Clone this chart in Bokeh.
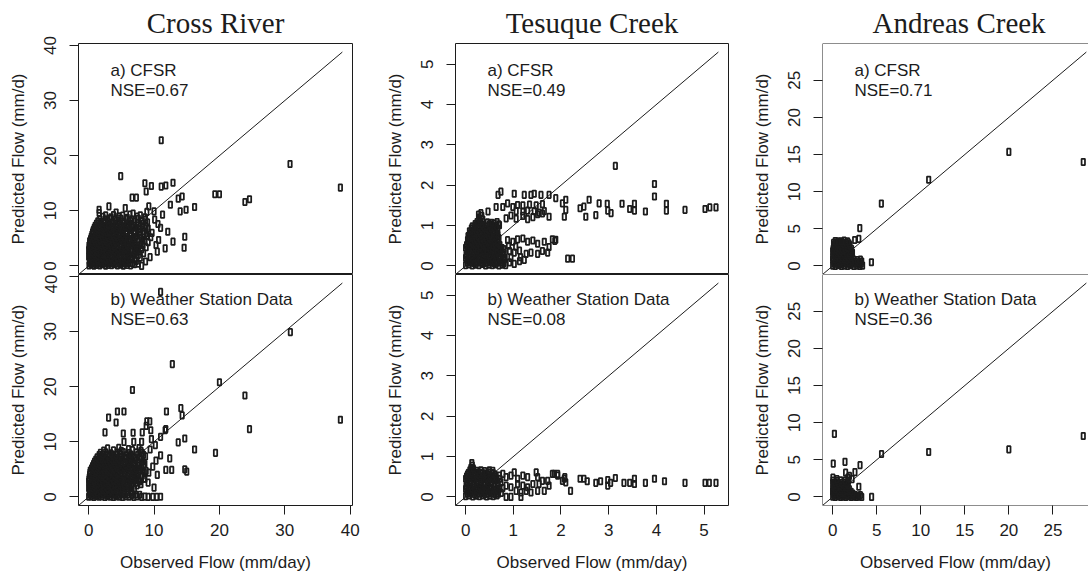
from bokeh.plotting import figure
from bokeh.layouts import gridplot
from bokeh.models import Range1d, FixedTicker, Span
from bokeh.core.properties import value
from bokeh.embed import file_html
from bokeh.resources import INLINE

# ---- chart values -------------------------------------------------------
site_names = ["Cross River", "Tesuque Creek", "Andreas Creek"]
source_labels = ["a) CFSR", "b) Weather Station Data"]
nse_cfsr = [0.67, 0.49, 0.71]
nse_station = [0.63, 0.08, 0.36]
flow_max = [38.8, 5.3, 28.8]          # upper flow limit (mm/d), same on both axes
tick_values = [[0, 10, 20, 30, 40], [0, 1, 2, 3, 4, 5], [0, 5, 10, 15, 20, 25]]

# (observed, predicted) daily flows, mm/d
cross_cfsr = [
    (0.05, 0.1), (0.4, 0.25), (0.8, 0.05), (1.2, 0.2), (1.7, 0.1), (2.1, 0.3), (2.6, 0.05), (3.0, 0.2),
    (3.5, 0.15), (3.9, 0.3), (4.4, 0.1), (4.9, 0.25), (5.3, 0.05), (5.9, 0.2), (6.4, 0.1), (7.0, 0.3),
    (0.25, 0.5), (0.6, 0.45), (1.0, 0.55), (1.45, 0.4), (1.9, 0.6), (2.35, 0.5), (2.8, 0.45), (3.25, 0.55),
    (3.7, 0.5), (4.15, 0.4), (4.65, 0.6), (5.1, 0.5), (5.6, 0.45), (6.1, 0.55), (6.7, 0.5), (7.6, 0.4),
    (0.1, 0.9), (0.5, 0.8), (0.9, 1.0), (1.4, 0.85), (1.8, 0.95), (2.3, 0.75), (2.7, 1.05), (3.2, 0.9),
    (3.7, 0.8), (4.1, 1.0), (4.6, 0.85), (5.1, 0.95), (5.6, 0.8), (6.2, 1.1), (7.3, 0.9),
    (0.2, 1.3), (0.55, 1.25), (0.95, 1.35), (1.35, 1.2), (1.8, 1.4), (2.2, 1.3), (2.65, 1.25), (3.05, 1.35),
    (3.5, 1.3), (3.95, 1.2), (4.4, 1.4), (4.9, 1.3), (5.35, 1.25), (5.85, 1.35), (6.5, 1.3), (7.1, 1.2),
    (0.0, 1.7), (0.3, 1.6), (0.7, 1.8), (1.1, 1.65), (1.6, 1.75), (2.0, 1.55), (2.5, 1.85), (2.9, 1.7),
    (3.4, 1.6), (3.9, 1.8), (4.3, 1.65), (4.8, 1.75), (5.4, 1.6), (6.0, 1.85), (6.7, 1.7), (7.9, 1.5),
    (0.1, 2.1), (0.45, 2.05), (0.85, 2.15), (1.3, 2.0), (1.75, 2.2), (2.2, 2.1), (2.65, 2.05), (3.1, 2.15),
    (3.55, 2.1), (4.05, 2.0), (4.5, 2.2), (5.0, 2.1), (5.5, 2.05), (6.2, 2.15), (6.9, 2.1), (7.6, 2.0),
    (0.2, 2.5), (0.6, 2.4), (1.0, 2.6), (1.5, 2.45), (1.9, 2.55), (2.4, 2.35), (2.8, 2.65), (3.3, 2.5),
    (3.8, 2.4), (4.2, 2.6), (4.7, 2.45), (5.2, 2.55), (5.8, 2.4), (6.5, 2.6), (7.2, 2.5), (8.4, 2.3),
    (0.0, 2.9), (0.35, 2.85), (0.75, 2.95), (1.2, 2.8), (1.65, 3.0), (2.05, 2.9), (2.5, 2.85), (2.95, 2.95),
    (3.45, 2.9), (3.9, 2.8), (4.35, 3.0), (4.85, 2.9), (5.4, 2.85), (5.95, 2.95), (6.6, 2.9), (7.4, 2.8), (8.1, 3.0),
    (0.1, 3.3), (0.5, 3.2), (0.9, 3.4), (1.3, 3.25), (1.8, 3.35), (2.2, 3.15), (2.7, 3.45), (3.1, 3.3),
    (3.6, 3.2), (4.0, 3.4), (4.5, 3.25), (5.0, 3.35), (5.6, 3.2), (6.1, 3.45), (6.9, 3.3), (7.6, 3.1), (8.8, 3.4),
    (0.05, 3.7), (0.4, 3.65), (0.8, 3.75), (1.25, 3.6), (1.7, 3.8), (2.1, 3.7), (2.55, 3.65), (3.0, 3.75),
    (3.45, 3.7), (3.9, 3.6), (4.4, 3.8), (4.85, 3.7), (5.4, 3.65), (5.9, 3.75), (6.5, 3.7), (7.3, 3.6), (8.3, 3.8),
    (0.2, 4.1), (0.6, 4.0), (1.1, 4.2), (1.5, 4.05), (2.0, 4.15), (2.4, 3.95), (2.9, 4.25), (3.4, 4.1),
    (3.8, 4.0), (4.3, 4.2), (4.8, 4.05), (5.3, 4.15), (5.9, 4.0), (6.4, 4.25), (7.1, 4.1), (8.0, 3.9), (9.1, 4.3),
    (0.15, 4.5), (0.55, 4.45), (0.95, 4.55), (1.4, 4.4), (1.8, 4.6), (2.25, 4.5), (2.7, 4.45), (3.15, 4.55),
    (3.6, 4.5), (4.1, 4.4), (4.55, 4.6), (5.05, 4.5), (5.6, 4.45), (6.15, 4.55), (6.8, 4.5), (7.6, 4.4), (8.6, 4.6),
    (0.3, 4.9), (0.8, 4.8), (1.2, 5.0), (1.7, 4.85), (2.1, 4.95), (2.6, 4.75), (3.1, 5.05), (3.5, 4.9),
    (4.0, 4.8), (4.5, 5.0), (5.0, 4.85), (5.5, 4.95), (6.2, 4.8), (6.8, 5.05), (7.5, 4.9), (8.3, 4.7),
    (0.4, 5.3), (0.75, 5.25), (1.15, 5.35), (1.6, 5.2), (2.05, 5.4), (2.5, 5.3), (2.95, 5.25), (3.4, 5.35),
    (3.85, 5.3), (4.3, 5.2), (4.8, 5.4), (5.3, 5.3), (5.85, 5.25), (6.5, 5.35), (7.2, 5.3), (8.0, 5.2), (9.0, 5.4),
    (0.5, 5.7), (1.0, 5.6), (1.4, 5.8), (1.9, 5.65), (2.3, 5.75), (2.8, 5.55), (3.3, 5.85), (3.7, 5.7),
    (4.2, 5.6), (4.7, 5.8), (5.2, 5.65), (5.8, 5.75), (6.4, 5.6), (7.0, 5.85), (7.8, 5.7), (8.9, 5.5),
    (0.6, 6.1), (1.0, 6.05), (1.45, 6.15), (1.95, 6.0), (2.4, 6.2), (2.85, 6.1), (3.3, 6.05), (3.8, 6.15),
    (4.25, 6.1), (4.75, 6.0), (5.25, 6.2), (5.8, 6.1), (6.4, 6.05), (7.1, 6.15), (7.9, 6.1), (8.8, 6.0),
    (0.7, 6.5), (1.2, 6.4), (1.7, 6.6), (2.2, 6.45), (2.6, 6.55), (3.1, 6.35), (3.6, 6.65), (4.1, 6.5),
    (4.6, 6.4), (5.1, 6.6), (5.7, 6.45), (6.3, 6.55), (7.0, 6.4), (7.7, 6.65), (8.5, 6.3),
    (0.85, 6.9), (1.3, 6.85), (1.8, 6.95), (2.3, 6.8), (2.8, 7.0), (3.3, 6.9), (3.8, 6.85), (4.35, 6.95),
    (4.85, 6.9), (5.4, 6.8), (6.0, 7.0), (6.7, 6.9), (7.4, 6.85), (8.2, 6.95), (9.1, 6.8),
    (1.0, 7.3), (1.6, 7.2), (2.1, 7.4), (2.7, 7.25), (3.2, 7.35), (3.8, 7.15), (4.4, 7.45), (5.0, 7.3),
    (5.6, 7.2), (6.3, 7.4), (7.1, 7.25), (7.9, 7.35), (8.8, 7.1),
    (1.2, 7.7), (1.8, 7.65), (2.4, 7.75), (3.0, 7.6), (3.5, 7.8), (4.1, 7.7), (4.7, 7.65), (5.3, 7.75),
    (5.9, 7.7), (6.6, 7.6), (7.4, 7.8), (8.3, 7.7),
    (1.4, 8.1), (2.0, 8.0), (2.9, 8.2), (3.7, 7.95), (4.5, 8.15), (5.4, 8.0), (6.2, 8.25), (7.0, 8.05),
    (8.1, 8.2), (9.0, 7.9), (1.7, 8.5), (2.5, 8.45), (3.2, 8.55), (4.0, 8.4), (4.9, 8.6), (5.7, 8.5),
    (6.6, 8.45), (7.6, 8.55), (8.7, 8.4),
    (2.2, 8.9), (3.4, 8.8), (4.6, 9.0), (5.9, 8.75), (7.4, 8.95), (8.6, 8.8),
    (2.6, 9.2), (3.8, 9.25), (5.2, 9.15), (6.3, 9.3), (7.9, 9.2),
    (1.6, 9.6), (4.2, 9.7), (6.8, 9.5), (8.9, 9.8),
    (4.9, 16.3), (8.6, 15.0), (9.6, 14.5), (8.8, 13.5), (11.1, 14.4), (11.8, 14.6), (12.9, 15.1),
    (11.1, 22.8), (6.65, 12.4), (7.3, 12.4), (13.7, 12.2), (14.3, 12.6), (19.3, 13.0), (20.0, 13.0),
    (23.9, 11.6), (24.6, 12.1), (30.8, 18.5), (38.5, 14.2), (12.5, 11.1), (14.9, 10.2), (14.0, 9.9),
    (16.2, 10.7), (1.6, 10.2), (3.1, 10.8), (5.6, 10.5), (9.2, 10.8), (10.0, 9.9), (11.0, 6.9),
    (12.1, 6.2), (12.9, 4.4), (10.7, 4.7), (11.7, 3.2), (10.5, 2.6), (14.7, 5.3), (14.6, 3.3),
    (8.1, 0.0), (9.5, 5.2), (10.1, 8.4), (9.7, 6.0), (10.3, 3.8), (9.4, 1.6), (8.7, 0.8),
    (11.3, 9.3), (10.6, 7.6),
]

cross_station = [
    (0.0, 0.05), (0.4, 0.1), (0.8, 0.0), (1.2, 0.15), (1.6, 0.05), (2.0, 0.1), (2.5, 0.0), (2.9, 0.12),
    (3.3, 0.05), (3.8, 0.0), (4.2, 0.1), (4.7, 0.05), (5.2, 0.0), (5.7, 0.1), (6.2, 0.05), (6.9, 0.0),
    (7.4, 0.08), (8.1, 0.0), (8.6, 0.05), (9.1, 0.0), (9.8, 0.02), (10.4, 0.0), (11.0, 0.03),
    (0.2, 0.4), (0.6, 0.45), (1.0, 0.35), (1.4, 0.5), (1.8, 0.4), (2.25, 0.45), (2.7, 0.35), (3.1, 0.5),
    (3.55, 0.4), (4.0, 0.45), (4.45, 0.35), (4.95, 0.5), (5.45, 0.4), (6.0, 0.45), (6.6, 0.35), (7.2, 0.45), (7.8, 0.4),
    (0.1, 0.8), (0.5, 0.9), (0.9, 0.75), (1.3, 0.85), (1.8, 0.95), (2.2, 0.7), (2.6, 0.9), (3.1, 0.8),
    (3.5, 1.0), (4.0, 0.75), (4.4, 0.85), (4.9, 0.95), (5.4, 0.7), (6.0, 0.9), (6.6, 0.8),
    (0.2, 1.2), (0.55, 1.25), (0.95, 1.15), (1.35, 1.3), (1.8, 1.2), (2.2, 1.25), (2.65, 1.15), (3.05, 1.3),
    (3.5, 1.2), (3.9, 1.25), (4.4, 1.15), (4.85, 1.3), (5.35, 1.2), (5.9, 1.25), (6.6, 1.15),
    (0.0, 1.6), (0.35, 1.7), (0.75, 1.5), (1.15, 1.65), (1.6, 1.75), (2.0, 1.55), (2.4, 1.7), (2.85, 1.6),
    (3.3, 1.8), (3.7, 1.5), (4.2, 1.65), (4.6, 1.75), (5.1, 1.55), (5.6, 1.7), (6.3, 1.6), (7.0, 1.45),
    (0.1, 2.0), (0.5, 2.05), (0.9, 1.95), (1.3, 2.1), (1.75, 2.0), (2.15, 2.05), (2.6, 1.95), (3.05, 2.1),
    (3.5, 2.0), (3.95, 2.05), (4.4, 1.95), (4.85, 2.1), (5.35, 2.0), (5.9, 2.05), (6.6, 1.95), (7.4, 2.1),
    (0.2, 2.4), (0.6, 2.5), (1.0, 2.3), (1.4, 2.45), (1.85, 2.55), (2.25, 2.35), (2.7, 2.5), (3.1, 2.4),
    (3.5, 2.6), (4.0, 2.3), (4.4, 2.45), (4.9, 2.55), (5.4, 2.35), (5.9, 2.5), (6.6, 2.4), (7.3, 2.6), (8.0, 2.3),
    (0.0, 2.8), (0.4, 2.85), (0.8, 2.75), (1.2, 2.9), (1.65, 2.8), (2.05, 2.85), (2.5, 2.75), (2.9, 2.9),
    (3.35, 2.8), (3.8, 2.85), (4.25, 2.75), (4.7, 2.9), (5.2, 2.8), (5.7, 2.85), (6.3, 2.75), (7.0, 2.9), (7.8, 2.8),
    (0.05, 3.2), (0.45, 3.3), (0.85, 3.1), (1.25, 3.25), (1.65, 3.35), (2.1, 3.15), (2.5, 3.3), (2.95, 3.2),
    (3.4, 3.4), (3.8, 3.1), (4.3, 3.25), (4.7, 3.35), (5.2, 3.15), (5.8, 3.3), (6.4, 3.2), (7.0, 3.4),
    (7.7, 3.1), (8.5, 3.3),
    (0.1, 3.6), (0.5, 3.65), (0.9, 3.55), (1.3, 3.7), (1.75, 3.6), (2.15, 3.65), (2.6, 3.55), (3.05, 3.7),
    (3.5, 3.6), (3.95, 3.65), (4.4, 3.55), (4.9, 3.7), (5.4, 3.6), (5.95, 3.65), (6.6, 3.55), (7.3, 3.7), (8.1, 3.6),
    (0.15, 4.0), (0.55, 4.1), (0.95, 3.9), (1.4, 4.05), (1.8, 4.15), (2.2, 3.95), (2.65, 4.1), (3.1, 4.0),
    (3.5, 4.2), (4.0, 3.9), (4.5, 4.05), (5.0, 4.15), (5.5, 3.95), (6.1, 4.1), (6.7, 4.0), (7.4, 4.2), (8.2, 3.9),
    (0.2, 4.4), (0.6, 4.45), (1.0, 4.35), (1.45, 4.5), (1.85, 4.4), (2.3, 4.45), (2.75, 4.35), (3.2, 4.5),
    (3.6, 4.4), (4.1, 4.45), (4.6, 4.35), (5.1, 4.5), (5.6, 4.4), (6.2, 4.45), (6.9, 4.35), (7.6, 4.5), (8.5, 4.4),
    (0.25, 4.8), (0.7, 4.9), (1.1, 4.7), (1.55, 4.85), (1.95, 4.95), (2.4, 4.75), (2.8, 4.9), (3.3, 4.8),
    (3.7, 5.0), (4.2, 4.7), (4.7, 4.85), (5.2, 4.95), (5.8, 4.75), (6.4, 4.9), (7.1, 4.8), (7.8, 5.0), (8.8, 4.7),
    (0.45, 5.2), (0.85, 5.25), (1.3, 5.15), (1.7, 5.3), (2.15, 5.2), (2.6, 5.25), (3.0, 5.15), (3.45, 5.3),
    (3.9, 5.2), (4.4, 5.25), (4.9, 5.15), (5.4, 5.3), (6.0, 5.2), (6.6, 5.25), (7.3, 5.15), (8.1, 5.3),
    (0.6, 5.6), (1.0, 5.7), (1.45, 5.5), (1.9, 5.65), (2.3, 5.75), (2.75, 5.55), (3.2, 5.7), (3.6, 5.6),
    (4.1, 5.8), (4.6, 5.5), (5.1, 5.65), (5.6, 5.75), (6.2, 5.55), (6.9, 5.7), (7.6, 5.6), (8.4, 5.8),
    (0.75, 6.0), (1.2, 6.05), (1.65, 5.95), (2.1, 6.1), (2.55, 6.0), (3.0, 6.05), (3.5, 5.95), (3.95, 6.1),
    (4.45, 6.0), (5.0, 6.05), (5.6, 5.95), (6.2, 6.1), (6.9, 6.0), (7.7, 6.05), (8.6, 5.95),
    (0.9, 6.4), (1.4, 6.5), (1.85, 6.3), (2.3, 6.45), (2.8, 6.55), (3.3, 6.35), (3.8, 6.5), (4.3, 6.4),
    (4.8, 6.6), (5.4, 6.3), (6.0, 6.45), (6.7, 6.55), (7.5, 6.35), (8.3, 6.5),
    (1.1, 6.8), (1.6, 6.85), (2.1, 6.75), (2.6, 6.9), (3.1, 6.8), (3.55, 6.85), (4.1, 6.75), (4.6, 6.9),
    (5.2, 6.8), (5.8, 6.85), (6.5, 6.75), (7.2, 6.9), (8.0, 6.8),
    (1.3, 7.2), (1.9, 7.3), (2.5, 7.1), (3.1, 7.25), (3.7, 7.35), (4.3, 7.15), (4.9, 7.3), (5.6, 7.2),
    (6.3, 7.4), (7.0, 7.1), (7.8, 7.25), (8.7, 7.35),
    (1.6, 7.6), (2.2, 7.65), (2.9, 7.55), (3.6, 7.7), (4.2, 7.6), (4.9, 7.65), (5.7, 7.55), (6.5, 7.7),
    (7.5, 7.6), (8.4, 7.65),
    (1.8, 8.0), (2.6, 8.1), (3.4, 7.9), (4.4, 8.05), (5.3, 8.15), (6.2, 7.95), (7.3, 8.1), (8.2, 8.0),
    (2.3, 8.4), (3.8, 8.45), (5.0, 8.35), (6.7, 8.5), (8.0, 8.4),
    (2.9, 8.8), (4.6, 8.9), (6.1, 8.7), (7.7, 8.85),
    (11.0, 37.2), (30.85, 29.9), (12.8, 24.1), (20.0, 20.8), (6.7, 19.4), (23.9, 18.4), (38.5, 14.0),
    (24.6, 12.3), (14.1, 16.1), (14.3, 14.8), (11.9, 15.5), (4.4, 15.5), (5.4, 15.5), (3.05, 14.4),
    (4.2, 13.5), (2.5, 11.7), (8.8, 12.9), (9.35, 13.7), (6.8, 11.65), (8.2, 11.7), (9.5, 12.1),
    (11.8, 12.3), (11.0, 10.9), (14.7, 10.6), (13.7, 9.9), (16.2, 8.6), (19.4, 8.0), (14.7, 5.0),
    (15.0, 4.6), (11.8, 4.9), (12.7, 4.9), (10.5, 4.0), (12.4, 7.0), (11.0, 7.55), (9.1, 2.6),
    (8.9, 13.7), (5.3, 11.5), (5.4, 10.0), (6.9, 10.0), (8.1, 10.0), (11.7, 12.1), (9.6, 10.5),
    (10.2, 9.4), (9.4, 8.6), (10.3, 6.6), (9.8, 5.5), (9.2, 4.4), (8.6, 3.3), (10.0, 1.7),
]

tesuque_cfsr = [
    (0.0, 0.02), (0.07, 0.04), (0.14, 0.01), (0.21, 0.03), (0.28, 0.02), (0.35, 0.05), (0.42, 0.01),
    (0.49, 0.03), (0.56, 0.02), (0.63, 0.04), (0.70, 0.01), (0.77, 0.03), (0.84, 0.02),
    (0.035, 0.08), (0.105, 0.09), (0.175, 0.07), (0.245, 0.08), (0.315, 0.09), (0.385, 0.07),
    (0.455, 0.08), (0.525, 0.09), (0.595, 0.07), (0.665, 0.08), (0.735, 0.09), (0.805, 0.07),
    (0.03, 0.15), (0.10, 0.13), (0.17, 0.16), (0.24, 0.12), (0.31, 0.15), (0.38, 0.14), (0.45, 0.16),
    (0.52, 0.13), (0.59, 0.15), (0.66, 0.12), (0.73, 0.16), (0.80, 0.14),
    (0.0, 0.2), (0.065, 0.21), (0.135, 0.19), (0.205, 0.2), (0.275, 0.21), (0.345, 0.19), (0.415, 0.2),
    (0.485, 0.21), (0.555, 0.19), (0.625, 0.2), (0.695, 0.21), (0.765, 0.19), (0.83, 0.2),
    (0.01, 0.27), (0.08, 0.28), (0.15, 0.26), (0.22, 0.29), (0.29, 0.27), (0.36, 0.25), (0.43, 0.28),
    (0.50, 0.26), (0.57, 0.29), (0.64, 0.27), (0.71, 0.25), (0.78, 0.28),
    (0.045, 0.33), (0.115, 0.34), (0.185, 0.32), (0.255, 0.33), (0.325, 0.34), (0.395, 0.32),
    (0.465, 0.33), (0.535, 0.34), (0.605, 0.32), (0.675, 0.33), (0.745, 0.34), (0.81, 0.32),
    (0.03, 0.40), (0.10, 0.38), (0.17, 0.41), (0.24, 0.39), (0.31, 0.37), (0.38, 0.40), (0.45, 0.38),
    (0.52, 0.41), (0.59, 0.39), (0.66, 0.37), (0.73, 0.40), (0.80, 0.42),
    (0.0, 0.45), (0.065, 0.46), (0.135, 0.44), (0.205, 0.45), (0.275, 0.46), (0.345, 0.44),
    (0.415, 0.45), (0.485, 0.46), (0.555, 0.44), (0.625, 0.45), (0.695, 0.46), (0.765, 0.44),
    (0.02, 0.52), (0.09, 0.50), (0.16, 0.53), (0.23, 0.51), (0.30, 0.49), (0.37, 0.52), (0.44, 0.50),
    (0.51, 0.53), (0.58, 0.51), (0.65, 0.49), (0.72, 0.52),
    (0.05, 0.57), (0.125, 0.58), (0.195, 0.56), (0.265, 0.57), (0.335, 0.58), (0.405, 0.56),
    (0.475, 0.57), (0.545, 0.58), (0.615, 0.56), (0.685, 0.57),
    (0.04, 0.64), (0.11, 0.62), (0.18, 0.65), (0.25, 0.63), (0.32, 0.61), (0.39, 0.64), (0.46, 0.62),
    (0.53, 0.65), (0.60, 0.63), (0.67, 0.61),
    (0.075, 0.69), (0.145, 0.7), (0.215, 0.68), (0.285, 0.69), (0.355, 0.7), (0.425, 0.68),
    (0.495, 0.69), (0.565, 0.7), (0.635, 0.68), (0.7, 0.69),
    (0.05, 0.74), (0.12, 0.77), (0.19, 0.75), (0.26, 0.73), (0.33, 0.76), (0.40, 0.74), (0.47, 0.77),
    (0.54, 0.75), (0.61, 0.73), (0.68, 0.76),
    (0.09, 0.81), (0.16, 0.82), (0.23, 0.8), (0.3, 0.81), (0.37, 0.82), (0.44, 0.8), (0.51, 0.81),
    (0.58, 0.82), (0.65, 0.8),
    (0.08, 0.86), (0.15, 0.88), (0.22, 0.87), (0.29, 0.85), (0.36, 0.89), (0.43, 0.87), (0.50, 0.88),
    (0.57, 0.86), (0.64, 0.89),
    (0.12, 0.93), (0.185, 0.94), (0.255, 0.92), (0.325, 0.93), (0.395, 0.94), (0.465, 0.92),
    (0.535, 0.93), (0.605, 0.94), (0.675, 0.92),
    (0.14, 0.98), (0.21, 1.0), (0.28, 0.97), (0.36, 0.99), (0.43, 0.98), (0.50, 1.0), (0.57, 0.97),
    (0.64, 0.99), (0.71, 1.01), (0.2, 1.04), (0.27, 1.05), (0.34, 1.03), (0.5, 1.04), (0.6, 1.05),
    (0.7, 1.03), (0.24, 1.09), (0.31, 1.1), (0.46, 1.08), (0.55, 1.07), (0.66, 1.09),
    (0.3, 1.16), (0.36, 1.15), (0.27, 1.27), (0.28, 1.2), (0.34, 1.24), (0.32, 1.31),
    (0.47, 1.35), (0.68, 1.76), (0.74, 1.84), (0.64, 1.46), (0.78, 1.46), (0.88, 1.55), (0.99, 1.46),
    (1.02, 1.79), (1.23, 1.76), (1.37, 1.76), (1.44, 1.79), (1.58, 1.76), (1.75, 1.76), (1.89, 1.68),
    (2.1, 1.64), (2.03, 1.55), (1.09, 1.51), (1.2, 1.5), (1.34, 1.52), (1.48, 1.5), (1.61, 1.53),
    (0.85, 1.18), (0.95, 1.25), (1.06, 1.17), (1.2, 1.24), (1.3, 1.16), (1.41, 1.21), (1.51, 1.28),
    (1.61, 1.3), (1.75, 1.22), (1.06, 1.36), (1.2, 1.35), (1.3, 1.37), (1.44, 1.36), (1.54, 1.32),
    (1.65, 1.36), (2.1, 1.39), (2.07, 1.22), (2.48, 1.47), (2.52, 1.22), (2.73, 1.26), (2.8, 1.55),
    (2.59, 1.64), (2.4, 1.43), (2.97, 1.54), (2.98, 1.37), (3.05, 1.31), (3.28, 1.54), (3.44, 1.41),
    (3.54, 1.54), (3.54, 1.37), (3.77, 1.35), (3.96, 2.03), (3.96, 1.72), (4.21, 1.54), (4.21, 1.37),
    (4.6, 1.39), (5.02, 1.41), (5.12, 1.45), (5.25, 1.45), (3.14, 2.48),
    (0.88, 0.64), (0.99, 0.6), (1.09, 0.66), (1.2, 0.68), (1.3, 0.6), (1.41, 0.63), (1.51, 0.55),
    (1.65, 0.6), (1.82, 0.66), (1.89, 0.65), (0.92, 0.37), (1.02, 0.33), (1.13, 0.38), (1.27, 0.3),
    (1.37, 0.33), (1.51, 0.3), (1.61, 0.37), (1.72, 0.33), (0.92, 0.09), (1.02, 0.05), (1.13, 0.12),
    (1.23, 0.15), (2.14, 0.18), (2.24, 0.18), (1.87, 0.62), (1.75, 0.47), (0.9, 0.5), (1.05, 0.48),
    (1.15, 0.22), (0.95, 0.2),
]

tesuque_station = [
    (0.0, 0.02), (0.07, 0.04), (0.15, 0.01), (0.22, 0.03), (0.29, 0.02), (0.36, 0.04), (0.44, 0.01),
    (0.51, 0.03), (0.58, 0.02), (0.66, 0.04),
    (0.035, 0.08), (0.11, 0.09), (0.185, 0.07), (0.255, 0.08), (0.325, 0.09), (0.4, 0.07),
    (0.475, 0.08), (0.545, 0.09), (0.62, 0.07), (0.69, 0.08),
    (0.03, 0.14), (0.10, 0.15), (0.18, 0.13), (0.25, 0.16), (0.32, 0.14), (0.40, 0.12), (0.47, 0.15),
    (0.54, 0.13), (0.62, 0.16), (0.69, 0.14),
    (0.0, 0.2), (0.065, 0.21), (0.14, 0.19), (0.215, 0.2), (0.285, 0.21), (0.36, 0.19), (0.435, 0.2),
    (0.505, 0.21), (0.58, 0.19), (0.655, 0.2), (0.72, 0.21),
    (0.01, 0.27), (0.08, 0.26), (0.16, 0.28), (0.23, 0.25), (0.30, 0.27), (0.38, 0.29), (0.45, 0.26),
    (0.52, 0.28), (0.60, 0.25), (0.67, 0.27),
    (0.025, 0.33), (0.095, 0.34), (0.175, 0.32), (0.245, 0.33), (0.315, 0.34), (0.395, 0.32),
    (0.465, 0.33), (0.535, 0.34), (0.615, 0.32), (0.685, 0.33),
    (0.04, 0.39), (0.11, 0.40), (0.19, 0.38), (0.26, 0.41), (0.33, 0.39), (0.41, 0.37), (0.48, 0.40),
    (0.55, 0.38), (0.63, 0.41),
    (0.0, 0.45), (0.075, 0.46), (0.15, 0.44), (0.225, 0.45), (0.295, 0.46), (0.37, 0.44),
    (0.445, 0.45), (0.515, 0.46), (0.59, 0.44), (0.66, 0.45),
    (0.02, 0.51), (0.09, 0.50), (0.17, 0.52), (0.24, 0.49), (0.31, 0.51), (0.39, 0.53), (0.46, 0.50),
    (0.53, 0.52), (0.61, 0.49),
    (0.04, 0.56), (0.11, 0.57), (0.19, 0.55), (0.26, 0.56), (0.33, 0.57), (0.41, 0.55), (0.48, 0.56),
    (0.55, 0.57), (0.62, 0.55),
    (0.06, 0.60), (0.13, 0.62), (0.21, 0.59), (0.28, 0.61), (0.35, 0.60), (0.43, 0.58), (0.50, 0.61),
    (0.58, 0.59), (0.09, 0.66), (0.17, 0.67), (0.24, 0.65), (0.32, 0.66), (0.4, 0.64),
    (0.11, 0.72), (0.16, 0.71), (0.14, 0.78), (0.13, 0.84), (0.57, 0.65), (0.50, 0.66),
    (1.86, 0.57), (1.93, 0.53), (2.07, 0.45), (2.1, 0.36), (2.2, 0.15), (1.48, 0.61), (1.51, 0.49),
    (1.61, 0.40), (1.72, 0.40), (1.75, 0.28), (1.65, 0.15), (1.51, 0.15), (1.41, 0.32), (1.30, 0.49),
    (1.20, 0.53), (1.09, 0.45), (1.02, 0.61), (0.95, 0.53), (0.85, 0.49), (0.78, 0.57), (0.71, 0.53),
    (0.74, 0.36), (0.85, 0.28), (0.95, 0.24), (1.06, 0.15), (1.16, 0.11), (1.27, 0.15), (1.37, 0.11),
    (0.85, 0.0), (0.95, 0.0), (1.16, 0.0), (1.09, 0.32), (1.2, 0.28), (1.30, 0.24), (1.54, 0.32),
    (0.75, 0.1), (0.78, 0.22), (0.72, 0.45),
    (5.02, 0.35), (5.11, 0.35), (5.25, 0.35), (4.6, 0.35), (4.17, 0.39), (3.96, 0.45), (3.77, 0.35),
    (3.54, 0.45), (3.54, 0.32), (3.44, 0.35), (3.32, 0.35), (3.14, 0.47), (3.04, 0.35), (2.98, 0.42),
    (2.98, 0.28), (2.83, 0.39), (2.73, 0.35), (2.55, 0.39), (2.48, 0.45), (2.4, 0.45), (2.03, 0.40),
    (1.93, 0.57), (1.82, 0.57), (2.08, 0.49),
]

andreas_cfsr = [
    (0.0, 0.05), (0.3, 0.0), (0.65, 0.1), (1.0, 0.0), (1.35, 0.05), (1.7, 0.0), (2.05, 0.1), (2.4, 0.0),
    (2.75, 0.05), (3.1, 0.0), (3.4, 0.05),
    (0.15, 0.3), (0.5, 0.3), (0.85, 0.25), (1.2, 0.3), (1.55, 0.35), (1.9, 0.25), (2.25, 0.3), (2.6, 0.3),
    (2.95, 0.25), (3.25, 0.3),
    (0.1, 0.55), (0.45, 0.6), (0.8, 0.5), (1.15, 0.6), (1.5, 0.55), (1.85, 0.5), (2.2, 0.6), (2.6, 0.55),
    (3.0, 0.5), (3.3, 0.6),
    (0.0, 0.85), (0.3, 0.9), (0.65, 0.8), (1.0, 0.9), (1.3, 0.85), (1.65, 0.8), (2.0, 0.9), (2.4, 0.85),
    (2.8, 0.8), (3.15, 0.85),
    (0.0, 1.15), (0.35, 1.2), (0.7, 1.1), (1.05, 1.2), (1.4, 1.15), (1.75, 1.1), (2.1, 1.2),
    (0.15, 1.45), (0.5, 1.4), (0.85, 1.5), (1.2, 1.45), (1.55, 1.4), (1.9, 1.5), (2.2, 1.45),
    (0.15, 1.7), (0.5, 1.75), (0.85, 1.65), (1.2, 1.75), (1.55, 1.7), (1.9, 1.65), (2.25, 1.8),
    (0.0, 2.0), (0.3, 2.05), (0.65, 1.95), (1.0, 2.0), (1.35, 2.05), (1.7, 1.95), (2.05, 2.0),
    (0.05, 2.3), (0.4, 2.25), (0.75, 2.35), (1.1, 2.3), (1.45, 2.25), (1.8, 2.35), (2.15, 2.3),
    (0.2, 2.6), (0.55, 2.55), (0.9, 2.65), (1.25, 2.6), (1.6, 2.55), (1.95, 2.65),
    (0.2, 2.85), (0.55, 2.9), (0.9, 2.8), (1.25, 2.9), (1.6, 2.85), (1.95, 2.8),
    (0.1, 3.1), (0.45, 3.15), (0.8, 3.05), (1.1, 3.1), (1.5, 3.15), (1.85, 3.05),
    (0.3, 3.35), (0.65, 3.3), (1.3, 3.4), (1.7, 3.3), (1.0, 3.3),
    (20.0, 15.35), (28.45, 14.0), (10.9, 11.6), (5.53, 8.4), (3.08, 5.1), (2.5, 3.5), (2.97, 3.65),
    (4.4, 0.5),
]

andreas_station = [
    (0.0, 0.05), (0.3, 0.0), (0.6, 0.1), (0.9, 0.0), (1.2, 0.05), (1.5, 0.0), (1.8, 0.1), (2.1, 0.0),
    (2.4, 0.05), (2.7, 0.0), (3.0, 0.05), (3.3, 0.0),
    (0.15, 0.25), (0.45, 0.25), (0.75, 0.2), (1.05, 0.25), (1.35, 0.3), (1.65, 0.25), (1.95, 0.2),
    (2.25, 0.25), (2.55, 0.25), (2.85, 0.2), (3.15, 0.25),
    (0.1, 0.45), (0.4, 0.5), (0.75, 0.4), (1.05, 0.5), (1.35, 0.45), (1.65, 0.4), (1.95, 0.5), (2.3, 0.45),
    (0.0, 0.75), (0.25, 0.7), (0.55, 0.8), (0.9, 0.75), (1.2, 0.7), (1.5, 0.8), (1.8, 0.75), (2.1, 0.7),
    (0.0, 1.0), (0.3, 1.05), (0.6, 0.95), (0.95, 1.05), (1.25, 1.0), (1.55, 0.95), (1.9, 1.05),
    (0.15, 1.3), (0.45, 1.35), (0.75, 1.25), (1.1, 1.3), (1.4, 1.35), (1.7, 1.25),
    (0.15, 1.6), (0.45, 1.65), (0.8, 1.55), (1.15, 1.65), (1.45, 1.6), (1.75, 1.55),
    (0.0, 1.9), (0.3, 1.95), (0.65, 1.85), (1.0, 1.9), (1.3, 1.95), (1.6, 1.85),
    (0.05, 2.2), (0.5, 2.15), (0.9, 2.25), (1.4, 2.2), (1.8, 2.15),
    (28.45, 8.2), (20.0, 6.4), (10.9, 6.05), (5.55, 5.78), (0.2, 8.5), (0.07, 4.49), (1.4, 4.73),
    (3.11, 4.29), (2.53, 3.35), (2.97, 1.37), (4.42, 0.0), (0.03, 2.6), (0.49, 2.39), (1.47, 3.28),
    (1.73, 2.61), (1.91, 2.84), (2.21, 2.4),
]

flows = [[cross_cfsr, tesuque_cfsr, andreas_cfsr],
         [cross_station, tesuque_station, andreas_station]]
nse_values = [nse_cfsr, nse_station]

# ---- styling ------------------------------------------------------------
INK = "#1c1c1c"
SANS = "Liberation Sans"
SERIF = "Liberation Serif"
FONT_PX = "17px"

FRAME_H = 231
frame_w_full = [274, 273, 274]      # nominal plotting-region width per column
frame_w_shown = [274, 273, 266]     # last column runs off the page edge
border_left = [78, 95, 85]
border_right = [8, 9, 0]
TOP_BORDER = 43
BOTTOM_BORDER = 71


def style_axis(ax, ticks, label_standoff, title_standoff):
    ax.ticker = FixedTicker(ticks=ticks, minor_ticks=[])
    ax.axis_line_color = None
    ax.major_tick_line_color = INK
    ax.major_tick_out = 9
    ax.major_tick_in = 0
    ax.minor_tick_line_color = None
    ax.major_label_text_font = SANS
    ax.major_label_text_font_size = FONT_PX
    ax.major_label_text_color = INK
    ax.major_label_standoff = label_standoff
    ax.axis_label_text_font = SANS
    ax.axis_label_text_font_size = FONT_PX
    ax.axis_label_text_font_style = "normal"
    ax.axis_label_text_color = INK
    ax.axis_label_standoff = title_standoff


def make_panel(row, col):
    top = row == 0
    lo = -0.04 * flow_max[col]
    hi = 1.04 * flow_max[col]
    upx = (hi - lo) / frame_w_full[col]
    upy = (hi - lo) / FRAME_H
    x_end = lo + upx * frame_w_shown[col]

    p = figure(
        width=border_left[col] + frame_w_shown[col] + border_right[col],
        height=(TOP_BORDER if top else 0) + FRAME_H + (0 if top else BOTTOM_BORDER),
        x_range=Range1d(lo, x_end), y_range=Range1d(lo, hi),
        x_axis_location=None if top else "below",
        toolbar_location=None, output_backend="svg",
        min_border_left=border_left[col], min_border_right=border_right[col],
        min_border_top=TOP_BORDER if top else 0,
        min_border_bottom=0 if top else BOTTOM_BORDER,
        background_fill_color="white", border_fill_color="white",
    )
    p.grid.visible = False

    if top:
        p.title.text = site_names[col]
        p.title.text_font = SERIF
        p.title.text_font_size = "29px"
        p.title.text_font_style = "normal"
        p.title.text_color = INK
        p.title.vertical_align = "top"
        p.title.standoff = 6
        if col == 2:
            # the last panel is cut at the page edge: centre over the full region
            p.title.align = "left"
            p.title.offset = 50
        else:
            p.title.align = "center"

    if col == 2:
        p.outline_line_color = None
        for loc, dim in ((hi, "width"), (lo, "width"), (lo, "height")):
            p.add_layout(Span(location=loc, dimension=dim, line_color=INK, line_width=1))
    else:
        p.outline_line_color = INK
        p.outline_line_width = 1

    style_axis(p.yaxis[0], tick_values[col], 13, 14)
    p.yaxis[0].major_label_orientation = "parallel"
    p.yaxis[0].axis_label = "Predicted Flow (mm/d)"
    if not top:
        style_axis(p.xaxis[0], tick_values[col], 9, 14)
        p.xaxis[0].axis_label = "Observed Flow (mm/day)"

    pts = flows[row][col]
    obs = [o for o, _ in pts]
    pred = [q for _, q in pts]
    p.rect(x=obs, y=pred, width=3.4, height=6.4, width_units="screen", height_units="screen",
           fill_color=None, line_color=INK, line_width=1.75)

    # 1:1 line
    p.line([lo, flow_max[col]], [lo, flow_max[col]], line_color=INK, line_width=1)

    base1, base2 = (27, 46.5) if top else (25, 45)
    tx = lo + 32 * upx
    nse = nse_values[row][col]
    p.text(x=[tx, tx], y=[hi - base1 * upy, hi - base2 * upy],
           text=[source_labels[row], f"NSE={nse:.2f}"],
           text_font=value(SANS), text_font_size=FONT_PX, text_color=INK,
           text_align="left", text_baseline="alphabetic")
    return p


grid = gridplot([[make_panel(r, c) for c in range(3)] for r in range(2)],
                toolbar_location=None)

open("out.html", "w").write(file_html(grid, INLINE))
